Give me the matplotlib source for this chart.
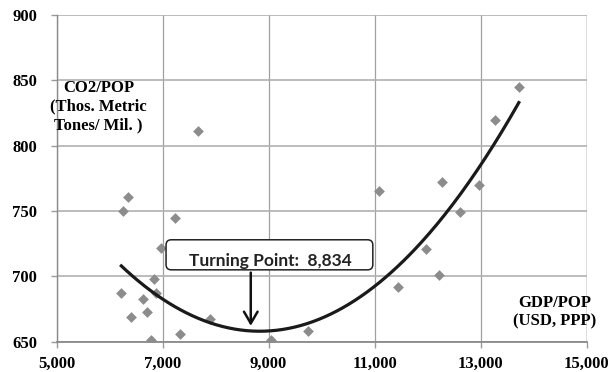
# scatter of CO2/POP against GDP/POP with quadratic trend and turning point
import numpy as np
import matplotlib.pyplot as plt
from matplotlib.patches import FancyBboxPatch

gdp = [6250, 6346, 6213, 6397, 6640, 6713, 6787, 6838, 6870, 6970, 7243, 7324,
       7669, 7904, 9044, 9743, 11074, 11434, 11963, 12213, 12272, 12618, 12978,
       13272, 13721]
co2 = [750, 761, 687, 669, 683, 673, 651, 698, 687, 722, 745, 656,
       811, 667, 651, 658, 765, 692, 721, 701, 772, 749, 770,
       820, 845]

# trend curve: vertex and curvature
turning_point = 8834
trend_min = 658
trend_curv = 7.33e-6
trend_range = (6200, 13735)

xticks = [5000, 7000, 9000, 11000, 13000, 15000]
yticks = [650, 700, 750, 800, 850, 900]

serif = ['Liberation Serif', 'DejaVu Serif']

fig = plt.figure(figsize=(6.11, 3.72), dpi=100)
ax = fig.add_axes([0.0925, 0.0815, 0.8677, 0.878])

ax.set_xlim(5000, 15000)
ax.set_ylim(650, 900)
ax.set_xticks(xticks)
ax.set_yticks(yticks)
ax.set_xticklabels([f"{t:,}" for t in xticks])
ax.set_yticklabels([str(t) for t in yticks])
for lab in ax.get_xticklabels() + ax.get_yticklabels():
    lab.set_fontfamily(serif)
    lab.set_fontweight('bold')
    lab.set_fontsize(12)
ax.tick_params(axis='y', length=4, width=1, color='#9a9a9a', pad=10)
ax.tick_params(axis='x', length=4, width=1, color='#9a9a9a', pad=6)

ax.grid(True, axis='x', color='#a0a0a0', lw=0.9)
ax.grid(True, axis='y', color='#b0b0b0', lw=1.2)
ax.get_xgridlines()[-1].set_color('#d2d2d2')
ax.get_xgridlines()[-1].set_linewidth(1.8)
ax.set_axisbelow(True)
for s in ['top', 'right']:
    ax.spines[s].set_visible(False)
ax.spines['left'].set_color('#8a8a8a')
ax.spines['bottom'].set_color('#8a8a8a')
ax.spines['left'].set_linewidth(1)
ax.spines['bottom'].set_linewidth(1.3)

ax.scatter(gdp, co2, marker='D', s=30, color='#8c8c8c', linewidths=0, zorder=3)

xs = np.linspace(trend_range[0], trend_range[1], 200)
ax.plot(xs, trend_min + trend_curv * (xs - turning_point) ** 2,
        color='#1a1a1a', lw=2.3, solid_capstyle='butt', zorder=4)

# turning point call-out box and arrow
box = FancyBboxPatch((7066, 705), 3900, 23,
                     boxstyle="round,pad=0,rounding_size=100",
                     mutation_aspect=0.04, fc='white', ec='#222222', lw=1.1, zorder=5)
ax.add_patch(box)
ax.text(9028, 708, f"Turning Point:  {turning_point:,}", ha='center', va='baseline',
        fontsize=12.5, fontweight='bold', family=['Lato', 'DejaVu Sans'],
        color='#222222', zorder=6)
ax.annotate('', xy=(8664, 660), xytext=(8664, 705),
            arrowprops=dict(arrowstyle='->,head_length=0.6,head_width=0.35',
                            color='#111111', lw=1.8, mutation_scale=14),
            zorder=6)

ax.text(0.0795, 0.72, "CO2/POP\n(Thos. Metric\nTones/ Mil. )", transform=ax.transAxes,
        ha='center', va='center', multialignment='center', family=serif,
        fontweight='bold', fontsize=12, linespacing=1.2)
ax.text(0.939, 0.09, "GDP/POP\n(USD, PPP)", transform=ax.transAxes,
        ha='center', va='center', multialignment='center', family=serif,
        fontweight='bold', fontsize=12, linespacing=1.2, clip_on=False)

fig.savefig("out.png", dpi=100)
